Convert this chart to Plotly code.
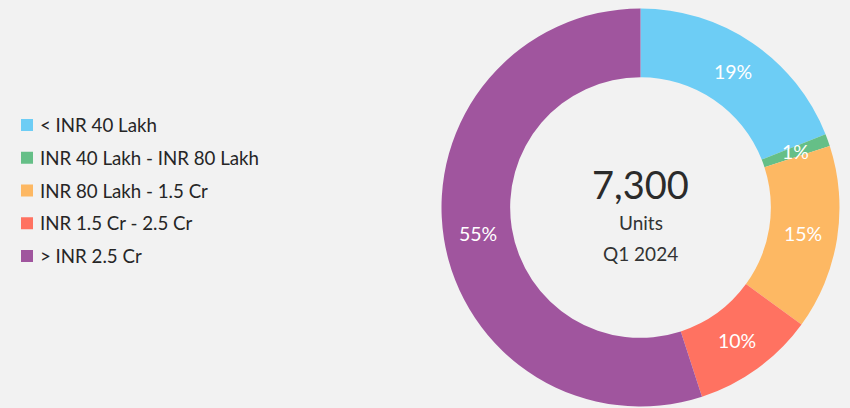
import math
import plotly.graph_objects as go

categories = ["< INR 40 Lakh", "INR 40 Lakh - INR 80 Lakh", "INR 80 Lakh - 1.5 Cr",
              "INR 1.5 Cr - 2.5 Cr", "> INR 2.5 Cr"]
shares = [19, 1, 15, 10, 55]
colors = ["#6DCDF5", "#65BF87", "#FDB863", "#FF7261", "#A0559E"]
total_units = "7,300"
unit_label = "Units"
period = "Q1 2024"

W, H = 850, 408
BG = "#F2F2F2"
FONT = "Lato"

# donut geometry (pixels)
cx, cy, R = 640.5, 207.5, 199.0
hole = 0.655

fig = go.Figure(go.Pie(
    labels=categories, values=shares, sort=False, direction="clockwise",
    rotation=0, hole=hole, textinfo="none", hoverinfo="label+percent",
    marker=dict(colors=colors, line=dict(width=0)),
    domain=dict(x=[(cx - R) / W, (cx + R) / W], y=[(H - cy - R) / H, (H - cy + R) / H]),
    showlegend=False,
))

annotations = []
shapes = []

# slice percentage labels, placed at the ring's mid radius
r_lab = R * (1 + hole) / 2
tot = sum(shares)
cum = 0
for v in shares:
    mid = (cum + v / 2) / tot * 2 * math.pi
    cum += v
    px = cx + r_lab * math.sin(mid)
    py = cy - r_lab * math.cos(mid)
    annotations.append(dict(x=px / W, y=1 - py / H, xref="paper", yref="paper",
                            text=f"{v / tot * 100:.0f}%", showarrow=False,
                            font=dict(family=FONT, size=19.5, color="white"),
                            xanchor="center", yanchor="middle"))

# center text
annotations.append(dict(x=cx / W, y=1 - 184 / H, xref="paper", yref="paper", text=total_units,
                        showarrow=False, font=dict(family=FONT, size=38, color="#2b2b2b"),
                        xanchor="center", yanchor="middle"))
annotations.append(dict(x=cx / W, y=1 - 223 / H, xref="paper", yref="paper", text=unit_label,
                        showarrow=False, font=dict(family=FONT, size=19, color="#333333"),
                        xanchor="center", yanchor="middle"))
annotations.append(dict(x=cx / W, y=1 - 253 / H, xref="paper", yref="paper", text=period,
                        showarrow=False, font=dict(family=FONT, size=19, color="#333333"),
                        xanchor="center", yanchor="middle"))

# legend (manual)
leg_y0, leg_dy = 125, 32.75
for i, (lab, col) in enumerate(zip(categories, colors)):
    yc = leg_y0 + i * leg_dy
    shapes.append(dict(type="rect", xref="paper", yref="paper",
                       x0=21 / W, x1=33 / W, y0=1 - (yc + 6) / H, y1=1 - (yc - 6) / H,
                       fillcolor=col, line=dict(width=0)))
    annotations.append(dict(x=38 / W, y=1 - yc / H, xref="paper", yref="paper", text=lab,
                            showarrow=False, font=dict(family=FONT, size=18.7, color="#262626"),
                            xanchor="left", yanchor="middle"))

fig.update_layout(
    width=W, height=H, margin=dict(l=0, r=0, t=0, b=0),
    paper_bgcolor=BG, plot_bgcolor=BG,
    annotations=annotations, shapes=shapes,
)
fig.write_html("out.html")
